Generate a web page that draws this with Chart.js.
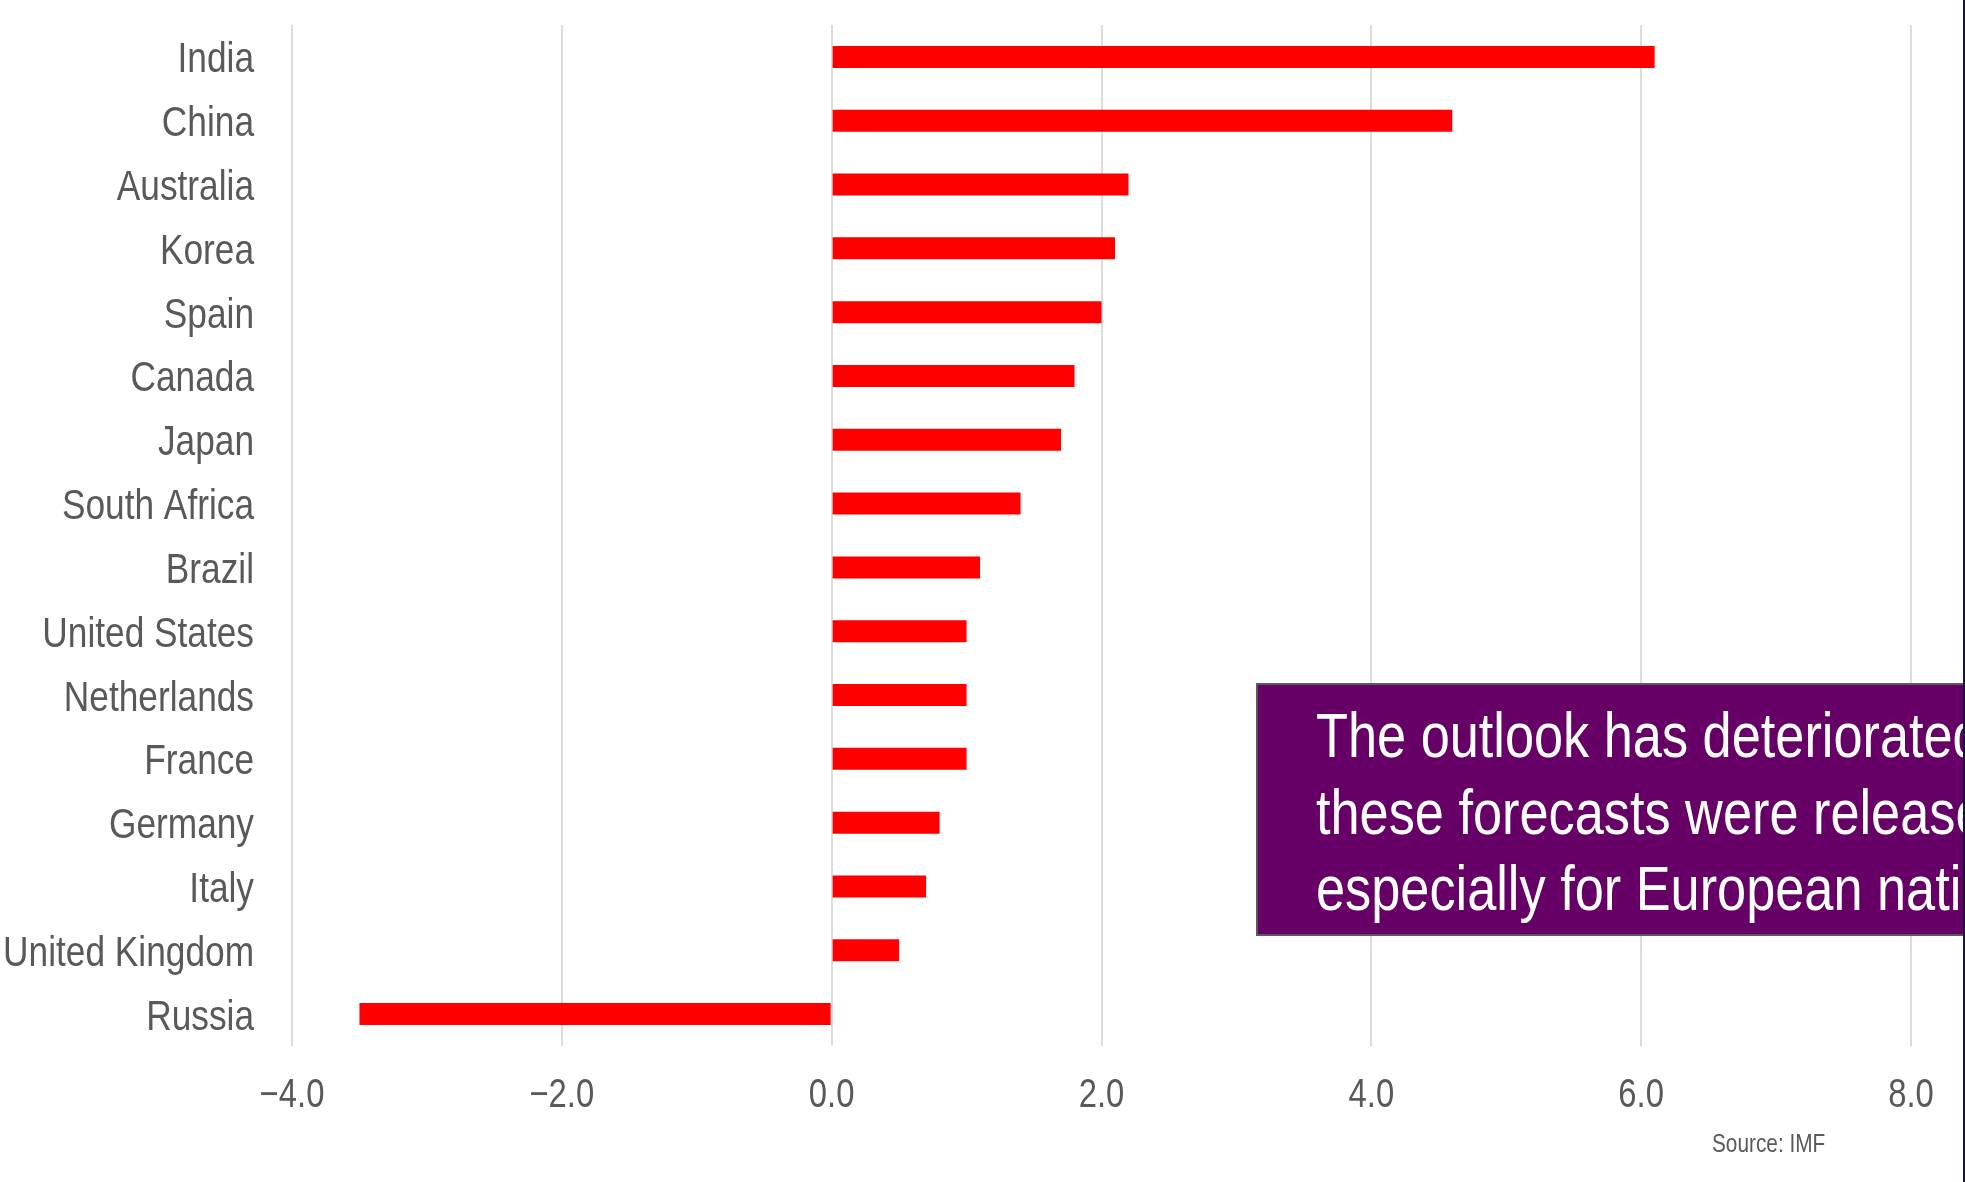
<!DOCTYPE html>
<html>
<head>
<meta charset="utf-8">
<script src="https://cdn.jsdelivr.net/npm/chart.js@4/dist/chart.umd.min.js"></script>
<style>
  html, body { margin: 0; padding: 0; background: #ffffff; }
  #wrap { position: relative; width: 1965px; height: 1182px; overflow: hidden; }
</style>
</head>
<body>
<div id="wrap"><canvas id="c" width="1965" height="1182"></canvas></div>
<script>
const countries = ['India', 'China', 'Australia', 'Korea', 'Spain', 'Canada', 'Japan', 'South Africa',
  'Brazil', 'United States', 'Netherlands', 'France', 'Germany', 'Italy', 'United Kingdom', 'Russia'];
const growth2023 = [6.1, 4.6, 2.2, 2.1, 2.0, 1.8, 1.7, 1.4, 1.1, 1.0, 1.0, 1.0, 0.8, 0.7, 0.5, -3.5];
const tickValues = [-4, -2, 0, 2, 4, 6, 8];
const tickLabels = ['\u22124.0', '\u22122.0', '0.0', '2.0', '4.0', '6.0', '8.0'];
const noteLines = ['The outlook has deteriorated since', 'these forecasts were released,', 'especially for European nations.'];
const sourceText = 'Source: IMF';

const FONT = "'Liberation Sans', Arial, sans-serif";
const NARROW = 0.82;

function narrowText(ctx, text, x, y, align, size, color, sx) {
  ctx.save();
  ctx.translate(x, y);
  ctx.scale(sx || NARROW, 1);
  ctx.font = size + 'px ' + FONT;
  ctx.fillStyle = color;
  ctx.textAlign = align;
  ctx.textBaseline = 'alphabetic';
  ctx.fillText(text, 0, 0);
  ctx.restore();
}

const overlay = {
  id: 'overlay',
  afterDraw(chart) {
    const ctx = chart.ctx;
    const xs = chart.scales.x, ys = chart.scales.y;
    // category labels (narrow face), placed by the library's category scale
    countries.forEach((name, i) => {
      const y = ys.getPixelForTick(i);
      narrowText(ctx, name, chart.chartArea.left - 38, y + 15.5, 'right', 43, '#595959');
    });
    // value axis labels, placed by the library's linear scale
    tickValues.forEach((v, i) => {
      const x = xs.getPixelForValue(v);
      narrowText(ctx, tickLabels[i], x, chart.chartArea.bottom + 61, 'center', 40, '#595959');
    });
    // note box
    ctx.save();
    ctx.fillStyle = '#660066';
    ctx.fillRect(1257, 684, 760, 251);
    ctx.strokeStyle = '#595959';
    ctx.lineWidth = 2;
    ctx.strokeRect(1257, 684, 760, 251);
    ctx.restore();
    noteLines.forEach((t, i) => narrowText(ctx, t, 1316, 757 + i * 76.5, 'left', 63, '#ffffff', 0.83));
    // source
    narrowText(ctx, sourceText, 1712, 1152, 'left', 26, '#595959', 0.8);
    // right edge line
    ctx.save();
    ctx.fillStyle = '#16163a';
    ctx.fillRect(1963, 0, 2, 1182);
    ctx.restore();
  }
};

new Chart(document.getElementById('c'), {
  type: 'bar',
  data: {
    labels: countries,
    datasets: [{
      data: growth2023,
      backgroundColor: '#ff0000',
      borderWidth: 0,
      categoryPercentage: 1.0,
      barPercentage: 0.345
    }]
  },
  options: {
    indexAxis: 'y',
    responsive: false,
    devicePixelRatio: 1,
    animation: false,
    layout: { padding: { top: 25, right: 54, left: 0, bottom: 0 } },
    plugins: { legend: { display: false }, tooltip: { enabled: false } },
    scales: {
      x: {
        min: -4, max: 8,
        afterBuildTicks: (axis) => { axis.ticks = tickValues.map(v => ({ value: v })); },
        afterFit: (axis) => { axis.height = 136; },
        grid: { color: '#dcdcdc', lineWidth: 2, drawTicks: false },
        border: { display: false },
        ticks: { display: false }
      },
      y: {
        afterFit: (axis) => { axis.width = 292; },
        grid: { display: false, drawTicks: false },
        border: { display: false },
        ticks: { display: false }
      }
    }
  },
  plugins: [overlay]
});
</script>
</body>
</html>
